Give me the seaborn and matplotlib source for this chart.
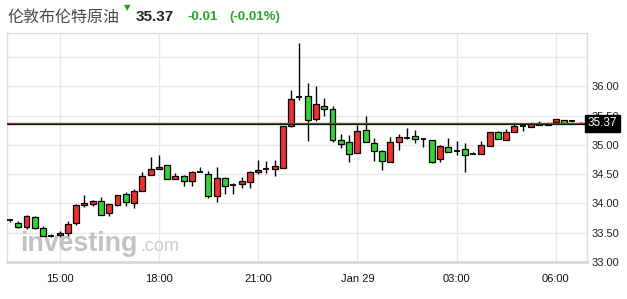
import matplotlib
matplotlib.use("Agg")
import matplotlib.pyplot as plt
import seaborn as sns
import numpy as np

# ---- data (15-minute candles, 13:30 -> 06:45) ----
opens = [33.71, 33.67, 33.60, 33.76, 33.58, 33.45, 33.46, 33.49, 33.66, 33.97,
         33.99, 34.04, 33.83, 33.97, 34.16, 34.00, 34.21, 34.48, 34.58, 34.66,
         34.41, 34.46, 34.38, 34.54, 34.51, 34.12, 34.43, 34.32, 34.33, 34.36,
         34.53, 34.58, 34.58, 34.60, 35.33, 35.82, 35.83, 35.44, 35.66, 35.61,
         35.08, 35.05, 34.86, 35.26, 35.03, 34.89, 34.71, 35.05, 35.12, 35.15,
         35.10, 35.08, 34.76, 34.97, 34.90, 34.93, 34.85, 34.85, 34.98, 35.22,
         35.08, 35.22, 35.32, 35.31, 35.38, 35.34, 35.39, 35.42, 35.41, 35.38]
highs = [33.74, 33.70, 33.80, 33.79, 33.61, 33.47, 33.53, 33.70, 33.99, 34.15,
         34.06, 34.11, 33.99, 34.14, 34.19, 34.25, 34.53, 34.79, 34.83, 34.66,
         34.52, 34.48, 34.56, 34.63, 34.56, 34.63, 34.45, 34.35, 34.45, 34.55,
         34.74, 34.72, 34.74, 35.33, 35.94, 36.74, 36.05, 36.01, 35.80, 35.67,
         35.19, 35.16, 35.34, 35.50, 35.11, 34.92, 35.14, 35.19, 35.28, 35.25,
         35.10, 35.08, 34.99, 35.11, 35.07, 35.03, 34.88, 35.06, 35.22, 35.24,
         35.27, 35.35, 35.35, 35.38, 35.40, 35.38, 35.44, 35.42, 35.42, 35.39]
lows = [33.68, 33.58, 33.56, 33.57, 33.44, 33.42, 33.43, 33.45, 33.63, 33.94,
        33.96, 33.80, 33.79, 33.96, 33.96, 33.92, 34.21, 34.48, 34.58, 34.41,
        34.41, 34.29, 34.30, 34.53, 34.09, 34.03, 34.16, 34.16, 34.27, 34.26,
        34.50, 34.52, 34.46, 34.60, 35.31, 35.77, 35.07, 35.40, 35.49, 35.05,
        34.94, 34.71, 34.86, 35.05, 34.72, 34.57, 34.71, 34.92, 35.10, 35.03,
        34.97, 34.69, 34.70, 34.88, 34.82, 34.54, 34.85, 34.85, 34.98, 35.10,
        35.08, 35.22, 35.24, 35.31, 35.34, 35.34, 35.39, 35.38, 35.39, 35.37]
closes = [33.71, 33.59, 33.79, 33.58, 33.44, 33.45, 33.50, 33.65, 33.97, 34.01,
          34.04, 33.80, 33.99, 34.14, 34.02, 34.21, 34.47, 34.58, 34.63, 34.41,
          34.46, 34.38, 34.53, 34.54, 34.13, 34.44, 34.29, 34.32, 34.39, 34.54,
          34.57, 34.58, 34.64, 35.32, 35.78, 35.82, 35.42, 35.70, 35.62, 35.08,
          35.01, 34.84, 35.23, 35.05, 34.89, 34.72, 35.05, 35.13, 35.12, 35.10,
          35.10, 34.71, 34.98, 34.88, 34.90, 34.83, 34.85, 34.99, 35.22, 35.10,
          35.22, 35.32, 35.32, 35.37, 35.34, 35.38, 35.44, 35.38, 35.41, 35.37]

tick_idx = [6, 18, 30, 42, 54, 66]
tick_labels = ["15:00", "18:00", "21:00", "Jan 29", "03:00", "06:00"]
y_ticks = [33.0, 33.5, 34.0, 34.5, 35.0, 35.5, 36.0, 36.5]
y_labels = ["33.00", "33.50", "34.00", "34.50", "35.00", "35.50", "36.00", ""]
last_price = 35.37
title_name = "伦敦布伦特原油"
title_price = "35.37"
title_change = "-0.01"
title_pct = "(-0.01%)"

# ---- style ----
sns.set_theme(style="white")
plt.rcParams["font.family"] = ["Liberation Sans", "Noto Sans CJK SC", "DejaVu Sans"]

UP = "#ee2f2f"
DOWN = "#35d235"
GRID = "#e6e8ee"

fig = plt.figure(figsize=(6.27, 2.99), dpi=100)
ax = fig.add_axes([7 / 627, 1 - 262 / 299, 579.5 / 627, 229 / 299])

x = np.arange(len(opens))
o = np.array(opens); h = np.array(highs); l = np.array(lows); c = np.array(closes)
w = 0.72

# wicks
ax.vlines(x, l, h, color="black", lw=1.0, zorder=3)
# bodies
body_bottom = np.minimum(o, c)
body_h = np.abs(c - o)
colors = np.array([UP if cc > oo else DOWN for oo, cc in zip(o, c)])
is_body = body_h > 0.005
ax.bar(x[is_body], body_h[is_body], bottom=body_bottom[is_body], width=w,
       color=colors[is_body], edgecolor="black", linewidth=0.9, zorder=4)
# doji
ax.hlines(o[~is_body], x[~is_body] - w / 2, x[~is_body] + w / 2, color="black", lw=1.3, zorder=4)

# last price line
ax.axhline(last_price, color="#c0302a", lw=1.0, zorder=5)
ax.axhline(last_price - 0.012, color="#111111", lw=0.9, zorder=5)

ax.set_xlim(-0.36, 69.71)
ax.set_ylim(33.0, 36.91)

ax.set_xticks(tick_idx)
ax.set_xticklabels(tick_labels, fontsize=8, color="#111111")
ax.set_yticks(y_ticks)
ax.set_yticklabels(y_labels, fontsize=8, color="#222222")
ax.yaxis.tick_right()
ax.tick_params(axis="both", length=0)
ax.tick_params(axis="x", pad=9)
ax.tick_params(axis="y", pad=4)

ax.grid(True, color=GRID, lw=1.0, zorder=0)
ax.set_axisbelow(True)
for s in ["left", "top", "right"]:
    ax.spines[s].set_color("#dcdde2")
    ax.spines[s].set_linewidth(1.0)
ax.spines["bottom"].set_color("#d6d8de")
ax.spines["bottom"].set_linewidth(2.0)

# price box on right
ax.text(1.002, last_price, title_price, transform=ax.get_yaxis_transform(),
        fontsize=8.5, color="white", va="center", ha="left", zorder=10,
        bbox=dict(boxstyle="square,pad=0.2", facecolor="black", edgecolor="black"),
        clip_on=False)

# watermark
ax.text(0.022, 0.05, "investing", transform=ax.transAxes, fontsize=19.3, fontweight="bold",
        color="#b8b8b8", alpha=0.85, va="baseline", ha="left", zorder=1)
ax.text(0.231, 0.05, ".com", transform=ax.transAxes, fontsize=13,
        color="#c4c4c4", alpha=0.85, va="baseline", ha="left", zorder=1)

# title line
fig.text(7 / 627, 1 - 17 / 299, title_name, fontsize=11.5, color="#484848",
         family=["Noto Sans CJK SC"], va="center", ha="left")
fig.text(124 / 627, 1 - 8 / 299, "▼", fontsize=6, color="#22a022",
         family=["DejaVu Sans"], va="center", ha="left")
fig.text(136 / 627, 1 - 17 / 299, title_price, fontsize=11, fontweight="bold",
         color="#222222", va="center", ha="left")
fig.text(187 / 627, 1 - 17 / 299, title_change, fontsize=9.5, fontweight="bold",
         color="#2aa52a", va="center", ha="left")
fig.text(229 / 627, 1 - 17 / 299, title_pct, fontsize=9.5, fontweight="bold",
         color="#2aa52a", va="center", ha="left")

fig.savefig("out.png", dpi=100)
